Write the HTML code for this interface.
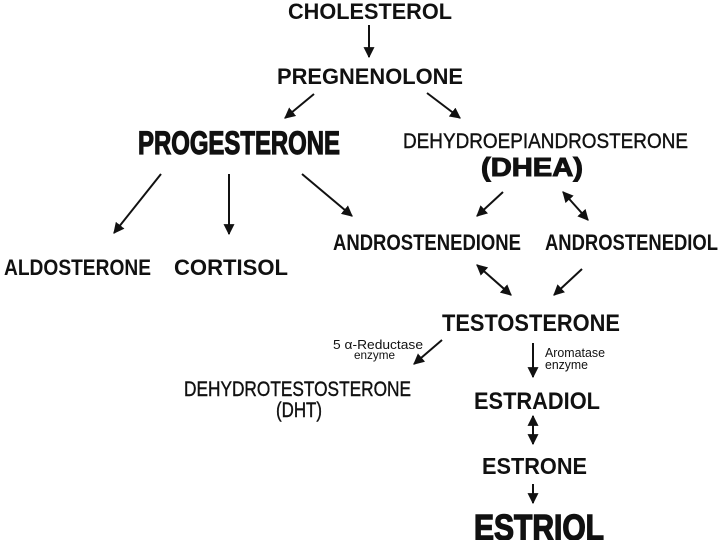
<!DOCTYPE html>
<html><head><style>html,body{margin:0;padding:0;background:#fff}svg{display:block}</style></head>
<body>
<svg width="720" height="540" viewBox="0 0 720 540" xmlns="http://www.w3.org/2000/svg" font-family="Liberation Sans, Arial, sans-serif" font-weight="bold" fill="#111">
<defs>
<marker id="a" viewBox="0 0 10 10" refX="9" refY="5" markerWidth="5.5" markerHeight="5.5" orient="auto-start-reverse"><path d="M0,0 L10,5 L0,10 z" fill="#111"/></marker>
</defs>
<g stroke="#111" stroke-width="2" fill="none">
<line x1="369" y1="25" x2="369" y2="57" marker-end="url(#a)"/>
<line x1="314" y1="94" x2="285" y2="118" marker-end="url(#a)"/>
<line x1="427" y1="93" x2="460" y2="118" marker-end="url(#a)"/>
<line x1="161" y1="174" x2="114" y2="233" marker-end="url(#a)"/>
<line x1="229" y1="174" x2="229" y2="234" marker-end="url(#a)"/>
<line x1="302" y1="174" x2="352" y2="216" marker-end="url(#a)"/>
<line x1="503" y1="192" x2="477" y2="216" marker-end="url(#a)"/>
<line x1="563" y1="192" x2="588" y2="220" marker-start="url(#a)" marker-end="url(#a)"/>
<line x1="477" y1="265" x2="511" y2="295" marker-start="url(#a)" marker-end="url(#a)"/>
<line x1="582" y1="269" x2="554" y2="295" marker-end="url(#a)"/>
<line x1="442" y1="340" x2="414" y2="364" marker-end="url(#a)"/>
<line x1="533" y1="343" x2="533" y2="377" marker-end="url(#a)"/>
<line x1="533" y1="416" x2="533" y2="444" marker-start="url(#a)" marker-end="url(#a)"/>
<line x1="533" y1="484" x2="533" y2="503" marker-end="url(#a)"/>
</g>
<g>
<text x="288" y="19" font-size="22" textLength="164" lengthAdjust="spacingAndGlyphs">CHOLESTEROL</text>
<text x="277" y="84" font-size="22" textLength="186" lengthAdjust="spacingAndGlyphs">PREGNENOLONE</text>
<text x="138" y="154" font-size="32" font-weight="900" stroke="#111" stroke-width="1.2" textLength="202" lengthAdjust="spacingAndGlyphs">PROGESTERONE</text>
<text x="403" y="148" font-size="21" font-weight="normal" stroke="#111" stroke-width="0.4" textLength="285" lengthAdjust="spacingAndGlyphs">DEHYDROEPIANDROSTERONE</text>
<text x="481" y="176" font-size="26" stroke="#111" stroke-width="1" textLength="102" lengthAdjust="spacingAndGlyphs">(DHEA)</text>
<text x="4" y="275" font-size="22" textLength="147" lengthAdjust="spacingAndGlyphs">ALDOSTERONE</text>
<text x="174" y="275" font-size="22" textLength="114" lengthAdjust="spacingAndGlyphs">CORTISOL</text>
<text x="333" y="250" font-size="22" textLength="188" lengthAdjust="spacingAndGlyphs">ANDROSTENEDIONE</text>
<text x="545" y="250" font-size="22" textLength="173" lengthAdjust="spacingAndGlyphs">ANDROSTENEDIOL</text>
<text x="442" y="331" font-size="24" textLength="178" lengthAdjust="spacingAndGlyphs">TESTOSTERONE</text>
<text x="333" y="349" font-size="13" font-weight="normal" textLength="90" lengthAdjust="spacingAndGlyphs">5 α-Reductase</text>
<text x="354" y="359" font-size="12" font-weight="normal" textLength="41" lengthAdjust="spacingAndGlyphs">enzyme</text>
<text x="545" y="357" font-size="13" font-weight="normal" textLength="60" lengthAdjust="spacingAndGlyphs">Aromatase</text>
<text x="545" y="369" font-size="13" font-weight="normal" textLength="43" lengthAdjust="spacingAndGlyphs">enzyme</text>
<text x="184" y="396" font-size="21" font-weight="normal" stroke="#111" stroke-width="0.4" textLength="227" lengthAdjust="spacingAndGlyphs">DEHYDROTESTOSTERONE</text>
<text x="276" y="417" font-size="21" font-weight="normal" stroke="#111" stroke-width="0.4" textLength="46" lengthAdjust="spacingAndGlyphs">(DHT)</text>
<text x="474" y="409" font-size="24" textLength="126" lengthAdjust="spacingAndGlyphs">ESTRADIOL</text>
<text x="482" y="474" font-size="23" textLength="105" lengthAdjust="spacingAndGlyphs">ESTRONE</text>
<text x="474" y="540" font-size="36" font-weight="900" stroke="#111" stroke-width="1.4" textLength="130" lengthAdjust="spacingAndGlyphs">ESTRIOL</text>
</g>
</svg>
</body></html>
